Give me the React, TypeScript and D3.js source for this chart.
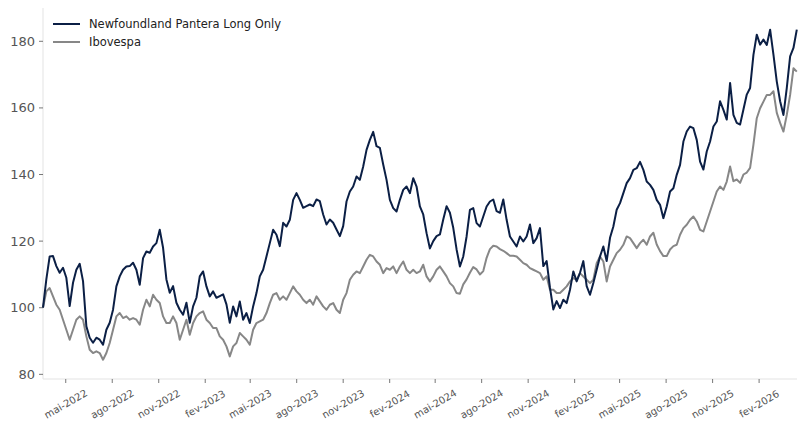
import React from "react";
import * as d3 from "d3";

// series sampled every ~6.6 days starting 17 Mar 2022
const startDate = new Date(2022, 2, 17);
const endDate = new Date(2026, 3, 17);
const stepDays = 6.6;

const pantera = [
  100, 108.5, 115.4, 115.5, 112.5, 110.5, 112, 109, 100.5, 107.5,
  111.4, 113.2, 108, 94.4, 91, 89.5, 91, 90.4, 88.9, 93.4,
  95.5, 99.4, 106.4, 109.4, 111.4, 112.4, 112.5, 113.5, 111.4, 106.9,
  114.9, 116.9, 116.5, 118.4, 119.4, 123.4, 118, 108.5, 104.5, 106.5,
  101.5, 99.4, 97.9, 101.5, 95.5, 100.4, 103, 109.4, 110.9, 106.4,
  103.4, 104.9, 103, 103.5, 104, 101, 95.5, 100.4, 97.4, 101.9,
  96.4, 98.4, 95.4, 100.4, 104.4, 109.4, 111.4, 115.4, 119.4, 123.4,
  121.9, 118.5, 125.5, 124.4, 126.4, 132.4, 134.4, 132.4, 130, 130.5,
  131, 130.5, 132.5, 132, 128, 125, 126.5, 125.5, 123.5, 121.5,
  124.5, 131.9, 134.9, 136.4, 139.4, 138.4, 142.4, 147.4, 150.4, 152.8,
  148.5, 148, 143, 138.4, 132.4, 129.9, 128.9, 132.4, 135.4, 136.4,
  134.4, 138.9, 136.4, 130.4, 128, 122.4, 117.8, 120, 121.5, 122,
  126.5, 130.5, 128.5, 124, 117.5, 112.4, 115.4, 121.4, 129.4, 129.9,
  125.4, 124.4, 127.4, 130.4, 131.9, 132.5, 129, 128.5, 132.5, 126.4,
  121.4, 119.9, 118.4, 121.4, 119.9, 121.4, 125, 119.4, 120.9, 123.9,
  112.5, 114, 106, 99.5, 102, 99.9, 102.4, 101.4, 105.4, 110.9,
  107.9, 110.5, 114, 106.5, 103.9, 107.4, 111.4, 115.4, 118.4, 114,
  121, 124.4, 129.4, 131.4, 134.4, 137.4, 138.9, 141.4, 141.9, 143.8,
  141.4, 137.9, 136.9, 135.4, 132.4, 130.9, 126.9, 130.4, 134.9, 135.9,
  139.9, 142.9, 149.9, 152.9, 154.4, 153.9, 150.4, 143.9, 141.5, 146.9,
  149.9, 154.4, 155.9, 162, 159.4, 156.5, 167.5, 157.9, 155.5, 155,
  159.5, 164, 166, 175.9, 182, 179, 180.5, 178.9, 183.5, 176,
  167.9, 162, 157.9, 166, 175.5, 178, 183.5,
];

const ibovespa = [
  100, 104.9, 105.9, 103.4, 100.9, 99.4, 96.4, 93.4, 90.4, 93.4,
  96.4, 97.4, 96.4, 91.4, 87.4, 86.4, 86.9, 86.4, 84.4, 86.4,
  89.4, 93.4, 97.4, 98.4, 96.9, 97.4, 96.4, 96.9, 96.4, 94.9,
  99.4, 102.4, 100.4, 103.9, 102.4, 101.4, 97.4, 95.4, 95.4, 97.4,
  95.4, 90.4, 93.4, 96.4, 91.9, 95.4, 97.4, 98.4, 98.9, 96.4,
  95.4, 93.9, 93.9, 91.4, 90.4, 88.4, 85.4, 88.4, 89.4, 92.4,
  91.4, 90.4, 88.9, 93.4, 95.4, 95.9, 96.4, 98.4, 101.4, 103.9,
  104.4, 102.4, 103.4, 102.4, 104.4, 106.4, 104.9, 103.9, 102.4, 101.4,
  102.4, 100.9, 103.4, 101.9, 100.4, 99.4, 100.9, 101.4, 99.4, 98.4,
  102.4, 104.4, 108.4, 109.9, 110.9, 110.4, 112.4, 114.4, 115.9, 115.4,
  113.9, 112.9, 110.4, 111.9, 111.4, 112.4, 110.4, 112.4, 113.9, 111.4,
  110.4, 111.4, 110.4, 110.9, 112.9, 109.4, 107.9, 109.4, 111.4, 112.4,
  110.9, 109.4, 107.4, 106.4, 104.4, 104.2, 107, 108.5, 110.5, 112.2,
  111.5, 110, 111, 115, 117.6, 118.6, 118.4, 117.6, 117.1, 116.4,
  115.6, 115.6, 115.4, 114.4, 113.4, 112.9, 111.9, 111.4, 110.9, 110.4,
  108.4, 109.4, 105.4, 105.4, 104.4, 104.4, 105.4, 106.4, 107.9, 108.9,
  108.4, 110.4, 109.4, 108.4, 107.4, 108.4, 113.4, 115.4, 113.9, 107.9,
  112.4, 114.4, 116.4, 117.4, 118.9, 121.4, 120.9, 119.4, 117.9, 119.4,
  120.4, 118.9, 121.4, 122.5, 119, 117, 115.5, 115.5, 117.5, 118.5,
  118.9, 121.9, 123.9, 124.9, 126.4, 127.4, 125.9, 123.4, 122.9, 125.9,
  128.9, 131.9, 134.9, 136.4, 135.4, 137.9, 142.4, 138, 138.5, 137.5,
  140, 140.6, 142, 149, 156.9, 159.9, 161.9, 163.9, 163.9, 165,
  158.5, 155.5, 152.9, 157.9, 163.9, 171.9, 170.9,
];

const yTicks = [80, 100, 120, 140, 160, 180];
const xTickDates = [
  "2022-05-01", "2022-08-01", "2022-11-01", "2023-02-01",
  "2023-05-01", "2023-08-01", "2023-11-01", "2024-02-01",
  "2024-05-01", "2024-08-01", "2024-11-01", "2025-02-01",
  "2025-05-01", "2025-08-01", "2025-11-01", "2026-02-01",
];
const xTickLabels = [
  "mai-2022", "ago-2022", "nov-2022", "fev-2023",
  "mai-2023", "ago-2023", "nov-2023", "fev-2024",
  "mai-2024", "ago-2024", "nov-2024", "fev-2025",
  "mai-2025", "ago-2025", "nov-2025", "fev-2026",
];
const seriesNames = ["Newfoundland Pantera Long Only", "Ibovespa"];
const seriesColors = ["#0b1f45", "#878787"];

const W = 798;
const H = 421;
const left = 43, right = 797, top = 8, bottom = 379;

export default function App() {
  const dates = pantera.map((_, i) => new Date(startDate.getTime() + i * stepDays * 864e5));
  const x = d3.scaleTime().domain([startDate, endDate]).range([left, right]);
  const y = d3.scaleLinear().domain([78.6, 190]).range([bottom, top]);
  const line = d3.line<number>()
    .x((_, i) => x(dates[i]))
    .y((d) => y(d));
  const font = "DejaVu Sans, sans-serif";
  const tickColor = "#555";

  return (
    <svg width={W} height={H} style={{position: "absolute", left: 0, top: 0}} fontFamily={font}>
      <rect width={W} height={H} fill="#fff" />
      <line x1={left} x2={left} y1={top} y2={bottom} stroke="#e3e3e3" />
      <line x1={left} x2={right} y1={bottom} y2={bottom} stroke="#e3e3e3" />
      {yTicks.map((t) => (
        <g key={t}>
          <line x1={left - 4} x2={left} y1={y(t)} y2={y(t)} stroke={tickColor} strokeWidth={0.8} />
          <text x={left - 8} y={y(t)} dy="0.35em" textAnchor="end" fontSize={13} fill={tickColor}>{t}</text>
        </g>
      ))}
      {xTickDates.map((d, i) => {
        const px = x(new Date(d + "T00:00:00"));
        return (
          <g key={d}>
            <line x1={px} x2={px} y1={bottom} y2={bottom + 4} stroke={tickColor} strokeWidth={0.8} />
            <text
              transform={`translate(${px},${bottom + 25}) rotate(-30)`}
              textAnchor="middle" dy="0.35em" fontSize={10} fill={tickColor}
            >{xTickLabels[i]}</text>
          </g>
        );
      })}
      <path d={line(ibovespa) || ""} fill="none" stroke={seriesColors[1]} strokeWidth={2} strokeLinejoin="round" />
      <path d={line(pantera) || ""} fill="none" stroke={seriesColors[0]} strokeWidth={2} strokeLinejoin="round" />
      {seriesNames.map((n, i) => (
        <g key={n}>
          <line x1={53} x2={80} y1={24 + i * 18} y2={24 + i * 18} stroke={seriesColors[i]} strokeWidth={2} />
          <text x={89} y={24 + i * 18} dy="0.35em" fontSize={11.5} fill="#222">{n}</text>
        </g>
      ))}
    </svg>
  );
}
